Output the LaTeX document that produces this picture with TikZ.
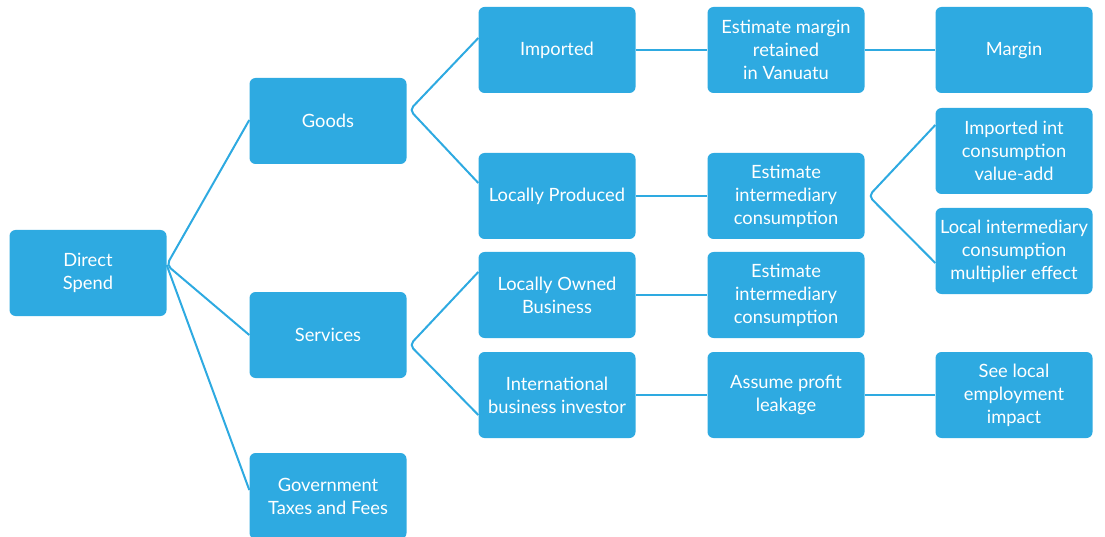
\documentclass[tikz,border=0pt]{standalone}
\usepackage{fontspec}
\setmainfont{Lato}
\usetikzlibrary{calc}
\definecolor{cb}{RGB}{46,170,225}
\begin{document}
\begin{tikzpicture}[x=1pt,y=-1pt,
  box/.style={fill=cb, rounded corners=6pt, minimum width=157pt, minimum height=86pt,
    text=white, align=center, font=\fontsize{18.3}{23}\selectfont, inner sep=0pt},
  link/.style={draw=cb, line width=2pt, rounded corners=5pt}]
\useasboundingbox (0,0) rectangle (1105,537);
% column 1
\node[box] (ds) at (88,273) {Direct\\Spend};
% column 2
\node[box] (goods) at (328,121) {Goods};
\node[box] (serv) at (328,335) {Services};
\node[box] (gov) at (328,496) {Government\\Taxes and Fees};
% column 3
\node[box] (imp) at (557,50) {Imported};
\node[box] (lp) at (557,196) {Locally Produced};
\node[box] (lob) at (557,295) {Locally Owned\\Business};
\node[box] (intl) at (557,395) {International\\business investor};
% column 4
\node[box] (em) at (786,50) {Estimate margin\\retained\\in Vanuatu};
\node[box] (ei1) at (786,196) {Estimate\\intermediary\\consumption};
\node[box] (ei2) at (786,295) {Estimate\\intermediary\\consumption};
\node[box] (apl) at (786,395) {Assume profit\\leakage};
% column 5
\node[box] (mar) at (1014,50) {Margin};
\node[box] (iic) at (1014,151) {Imported int\\consumption\\value-add};
\node[box] (lic) at (1014,251) {Local intermediary\\consumption\\multiplier effect};
\node[box] (see) at (1014,395) {See local\\employment\\impact};
% connectors
\draw[link] ($(goods.west)+(0,-1)$) -- ($(ds.east)+(0,-8)$) -- (serv.west);
\draw[link] ($(ds.east)+(0,-8)$) -- ($(gov.west)+(0,-6)$);
\draw[link] ($(imp.west)+(0,-12)$) -- ($(goods.east)+(3,-11)$) -- ($(lp.west)+(0,-13)$);
\draw[link] ($(lob.west)+(0,-23)$) -- ($(serv.east)+(3,10)$) -- ($(intl.west)+(0,20)$);
\draw[link] (imp.east) -- (em.west);
\draw[link] (em.east) -- (mar.west);
\draw[link] (lp.east) -- (ei1.west);
\draw[link] ($(iic.west)+(0,-26)$) -- ($(ei1.east)+(4,0)$) -- ($(lic.west)+(0,12)$);
\draw[link] (lob.east) -- (ei2.west);
\draw[link] (intl.east) -- (apl.west);
\draw[link] (apl.east) -- (see.west);
\end{tikzpicture}
\end{document}
